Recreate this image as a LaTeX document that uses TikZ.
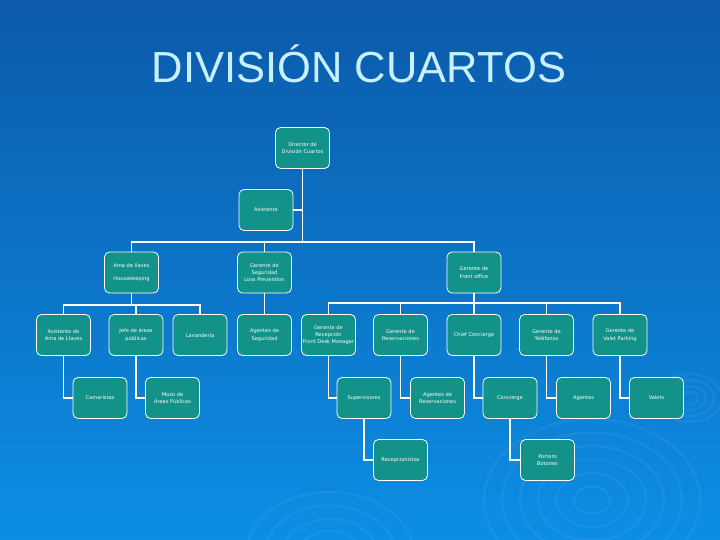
\documentclass[tikz,border=0pt]{standalone}
\usepackage{fontspec}
\setmainfont{Liberation Sans}
\newfontfamily\boxfont{DejaVu Sans}
\usetikzlibrary{positioning}
\definecolor{bgtop}{RGB}{12,90,170}
\definecolor{bgbot}{RGB}{12,142,228}
\definecolor{boxfill}{RGB}{18,146,136}
\definecolor{titlecol}{RGB}{200,240,255}

\begin{document}
\begin{tikzpicture}[x=1pt,y=-1pt,
  orgbox/.style={rectangle,draw=white,line width=0.8pt,fill=boxfill,rounded corners=5pt,
    minimum width=54pt,minimum height=41pt,inner sep=1pt,align=center,text=white,
    font=\boxfont\fontsize{5.1}{7.4}\selectfont},
  link/.style={draw=white,line width=1.6pt},
  ripple/.style={draw=white,draw opacity=0.05,line width=2.5pt}]
\useasboundingbox (0,0) rectangle (720,540);
\shade[top color=bgtop,bottom color=bgbot] (0,0) rectangle (720,540);
% water ripples
\foreach \r in {18,36,54,72,90,108}
  \draw[ripple] (592,500) ellipse [x radius=\r,y radius=0.75*\r];
\foreach \r in {16,32,48,66,84}
  \draw[ripple] (330,555) ellipse [x radius=\r,y radius=0.75*\r];
\foreach \r in {8,16,24,32}
  \draw[ripple] (690,398) ellipse [x radius=\r,y radius=0.75*\r];
\node[text=titlecol,font=\fontsize{43.5}{48}\selectfont,anchor=base] (title) at (359,83) {DIVISIÓN CUARTOS};

% levels 1 and 2
\node[orgbox] (dir)   at (302.5,148) {Director de\\División Cuartos};
\node[orgbox] (asis)  at (266,210)   {Asistente};
\node[orgbox] (ama)   at (131.5,272.5) {Ama de llaves\\[5pt]Housekeeping};
\node[orgbox] (seg)   at (264.5,272.5) {Gerente de\\Seguridad\\Loss Prevention};
\node[orgbox] (front) at (474,272.5) {Gerente de\\Front office};
% level 3
\node[orgbox] (asama) at (63.5,335)  {Asistente de\\Ama de Llaves};
\node[orgbox] (jefe)  at (136,335)   {Jefe de áreas\\públicas};
\node[orgbox] (lav)   at (200,335)   {Lavandería};
\node[orgbox] (ageseg) at (264.5,335) {Agentes de\\Seguridad};
\node[orgbox] (recep) at (328.5,335) {Gerente de\\Recepción\\Front Desk Manager};
\node[orgbox] (reserv) at (400.5,335) {Gerente de\\Reservaciones};
\node[orgbox] (chief) at (474,335)   {Chief Concierge};
\node[orgbox] (tel)   at (546.5,335) {Gerente de\\Teléfonos};
\node[orgbox] (valet) at (620,335)   {Gerente de\\Valet Parking};
% level 4
\node[orgbox] (cama)  at (100,398)   {Camaristas};
\node[orgbox] (mozo)  at (172.5,398) {Mozo de\\Áreas Públicas};
\node[orgbox] (sup)   at (364,398)   {Supervisores};
\node[orgbox] (agres) at (437.5,398) {Agentes de\\Reservaciones};
\node[orgbox] (conc)  at (510,398)   {Concierge};
\node[orgbox] (agtel) at (583.5,398) {Agentes};
\node[orgbox] (valets) at (656.5,398) {Valets};
% level 5
\node[orgbox] (recp)  at (400.5,460) {Recepcionistas};
\node[orgbox] (port)  at (547.5,460) {Portero\\Botones};

% connectors
\coordinate (bus1) at (302.5,242);
\coordinate (bus2) at (131.5,305);
\coordinate (bus3) at (474,303);
\draw[link] (dir.south) -- (bus1);
\draw[link] (dir.south |- asis.east) -- (asis.east);
\draw[link] (ama.north) |- (bus1) -| (front.north);
\draw[link] (seg.north) -- (seg.north |- bus1);
\draw[link] (ama.south) -- (bus2);
\draw[link] (asama.north) |- (bus2) -| (lav.north);
\draw[link] (jefe.north) -- (jefe.north |- bus2);
\draw[link] (seg.south) -- (ageseg.north);
\draw[link] (front.south) -- (bus3);
\draw[link] (recep.north) |- (bus3) -| (valet.north);
\draw[link] (reserv.north) -- (reserv.north |- bus3);
\draw[link] (chief.north) -- (chief.north |- bus3);
\draw[link] (tel.north) -- (tel.north |- bus3);
\draw[link] (asama.south) |- (cama.west);
\draw[link] (jefe.south) |- (mozo.west);
\draw[link] (recep.south) |- (sup.west);
\draw[link] (reserv.south) |- (agres.west);
\draw[link] (chief.south) |- (conc.west);
\draw[link] (tel.south) |- (agtel.west);
\draw[link] (valet.south) |- (valets.west);
\draw[link] (sup.south) |- (recp.west);
\draw[link] (conc.south) |- (port.west);
\end{tikzpicture}
\end{document}
